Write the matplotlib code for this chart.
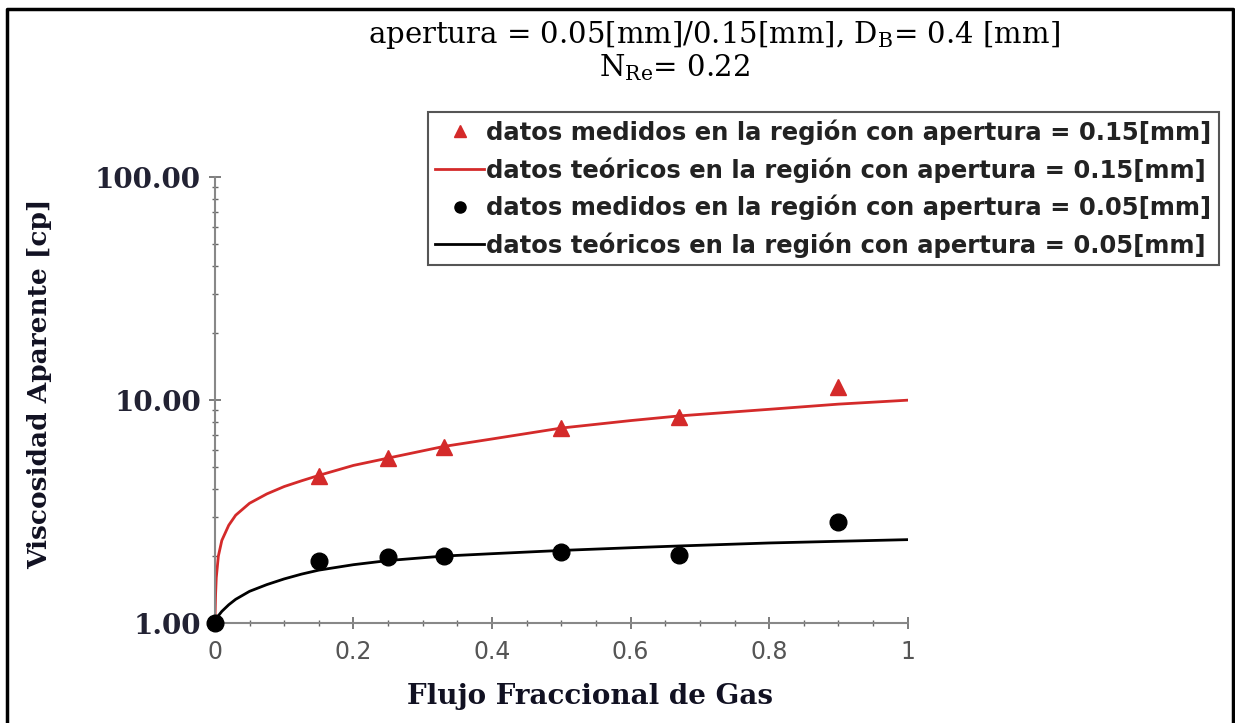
import matplotlib.pyplot as plt
import numpy as np
from matplotlib.lines import Line2D
from matplotlib.ticker import FixedLocator, NullFormatter, FixedFormatter

# measured points
x_meas = [0, 0.15, 0.25, 0.33, 0.5, 0.67, 0.9]
y_meas_015 = [1.0, 4.55, 5.49, 6.19, 7.47, 8.43, 11.5]
y_meas_005 = [1.0, 1.90, 1.98, 2.00, 2.09, 2.02, 2.84]

# theoretical curves
x_theo = [0, 0.001, 0.002, 0.005, 0.01, 0.02, 0.03, 0.05, 0.075, 0.1, 0.125,
          0.15, 0.2, 0.25, 0.33, 0.4, 0.5, 0.6, 0.67, 0.8, 0.9, 1.0]
y_theo_015 = [1.0, 1.35, 1.6, 2.0, 2.35, 2.75, 3.05, 3.45, 3.8, 4.1, 4.35,
              4.6, 5.1, 5.5, 6.2, 6.7, 7.5, 8.1, 8.5, 9.1, 9.6, 10.0]
y_theo_005 = [1.0, 1.02, 1.04, 1.08, 1.13, 1.21, 1.28, 1.39, 1.49, 1.58, 1.66,
              1.73, 1.83, 1.91, 2.0, 2.05, 2.12, 2.18, 2.22, 2.29, 2.33, 2.37]

x_ticks = [0, 0.2, 0.4, 0.6, 0.8, 1]
x_ticklabels = ['0', '0.2', '0.4', '0.6', '0.8', '1']
y_ticks = [1, 10, 100]
y_ticklabels = ['1.00', '10.00', '100.00']

labels = ['datos medidos en la región con apertura = 0.15[mm]',
          'datos teóricos en la región con apertura = 0.15[mm]',
          'datos medidos en la región con apertura = 0.05[mm]',
          'datos teóricos en la región con apertura = 0.05[mm]']

red = '#d42a2a'

fig = plt.figure(figsize=(12.35, 7.23), dpi=100)
ax = fig.add_axes([0.174, 0.138, 0.561, 0.617])

ax.plot(x_theo, y_theo_015, color=red, linewidth=2, zorder=2)
ax.plot(x_theo, y_theo_005, color='black', linewidth=2, zorder=2)
ax.plot(x_meas, y_meas_015, linestyle='none', marker='^', color=red, markersize=11, zorder=3)
ax.plot(x_meas, y_meas_005, linestyle='none', marker='o', color='black', markersize=12,
        zorder=4, clip_on=False)

ax.set_yscale('log')
ax.set_xlim(0, 1)
ax.set_ylim(1, 100)
ax.spines['top'].set_visible(False)
ax.spines['right'].set_visible(False)
for s in ['left', 'bottom']:
    ax.spines[s].set_color('#888888')
    ax.spines[s].set_linewidth(1.5)

ax.xaxis.set_major_locator(FixedLocator(x_ticks))
ax.xaxis.set_major_formatter(FixedFormatter(x_ticklabels))
ax.xaxis.set_minor_locator(FixedLocator(np.arange(0.05, 1.0, 0.05)))
ax.yaxis.set_major_locator(FixedLocator(y_ticks))
ax.yaxis.set_major_formatter(FixedFormatter(y_ticklabels))
ax.yaxis.set_minor_locator(FixedLocator([2, 3, 4, 5, 6, 7, 8, 9, 20, 30, 40, 50, 60, 70, 80, 90]))
ax.yaxis.set_minor_formatter(NullFormatter())

ax.tick_params(axis='both', which='major', direction='inout', length=8, width=1.2, color='#666666')
ax.tick_params(axis='both', which='minor', direction='inout', length=5, width=1, color='#666666')
ax.tick_params(axis='x', labelsize=17, labelcolor='#555555', pad=8)
ax.tick_params(axis='y', labelsize=20, pad=6)
for t in ax.get_yticklabels():
    t.set_fontfamily('DejaVu Serif')
    t.set_fontweight('bold')
    t.set_color('#222233')

ax.set_xlabel('Flujo Fraccional de Gas', fontsize=20, fontweight='bold',
              family='DejaVu Serif', color='#111122')
ax.xaxis.set_label_coords(0.541, -0.135)
ax.set_ylabel('Viscosidad Aparente [cp]', fontsize=19, fontweight='bold',
              family='DejaVu Serif', color='#111122')
ax.yaxis.set_label_coords(-0.235, 0.536)

# title
fig.text(0.578, 0.952, r'apertura = 0.05[mm]/0.15[mm], D$_\mathregular{B}$= 0.4 [mm]',
         ha='center', va='center', fontsize=21, family='DejaVu Serif')
fig.text(0.546, 0.906, r'N$_\mathregular{Re}$= 0.22', ha='center', va='center',
         fontsize=21, family='DejaVu Serif')

# legend
handles = [Line2D([], [], linestyle='none', marker='^', color=red, markersize=8),
           Line2D([], [], color=red, linewidth=2),
           Line2D([], [], linestyle='none', marker='o', color='black', markersize=8),
           Line2D([], [], color='black', linewidth=2)]
leg = fig.legend(handles, labels, loc='upper right', bbox_to_anchor=(0.987, 0.845),
                 prop={'family': 'DejaVu Sans', 'weight': 'bold', 'size': 17.5},
                 handlelength=2.0, handletextpad=0.1, labelspacing=0.5,
                 borderpad=0.3, borderaxespad=0, fancybox=False, framealpha=1)
leg.get_frame().set_edgecolor('#555555')
leg.get_frame().set_linewidth(1.5)
for t in leg.get_texts():
    t.set_color('#222222')

# outer frame (top, left, right)
fig.add_artist(Line2D([0.006, 0.006, 0.9985, 0.9985], [0.0, 0.988, 0.988, 0.0],
                      transform=fig.transFigure, color='black', linewidth=2.5))

plt.savefig('out.png', dpi=100)
